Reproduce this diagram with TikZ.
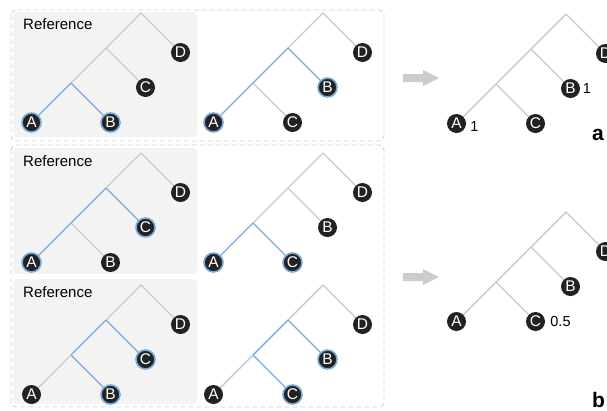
\documentclass[tikz,border=0pt]{standalone}
\usepackage{fontspec}
\setmainfont{Liberation Sans}
\setsansfont{Liberation Sans}
\usetikzlibrary{calc}
\definecolor{edgegray}{HTML}{C9C9C9}
\definecolor{edgeblue}{HTML}{78AADA}
\definecolor{boxfill}{HTML}{F3F3F3}
\definecolor{dashgray}{HTML}{D3D3D3}
\definecolor{nodeblack}{HTML}{222222}
\definecolor{arrowgray}{HTML}{CCCCCC}
\tikzset{
  leaf/.style={circle, fill=nodeblack, text=white, inner sep=0pt, minimum size=19pt,
    font=\fontsize{15.5}{16}\selectfont},
  ng/.style={leaf},
  nb/.style={leaf, draw=edgeblue, line width=1.6pt},
  eg/.style={draw=edgegray, line width=1.4pt},
  eb/.style={draw=edgeblue, line width=1.4pt},
  refbox/.style={fill=boxfill, rounded corners=4pt},
  outerbox/.style={draw=dashgray, line width=0.9pt, dash pattern=on 5pt off 3pt, rounded corners=5pt},
  reflabel/.style={anchor=base west, inner sep=0pt, font=\fontsize{15}{16}\selectfont},
  numlabel/.style={anchor=west, inner sep=0pt, font=\fontsize{14.5}{15}\selectfont},
  panellabel/.style={anchor=base west, inner sep=0pt, font=\fontsize{21}{22}\selectfont\bfseries},
}
\newcommand\treecoords[2]{%
  \coordinate (#1r) at (#2);
  \coordinate (#1m) at ($(#1r)+(-35,35)$);
  \coordinate (#1n) at ($(#1r)+(-70,70)$);
  \coordinate (#1p1) at ($(#1n)+(-39.5,39.5)$);
  \coordinate (#1p2) at ($(#1n)+(39.5,39.5)$);
  \coordinate (#1p3) at ($(#1m)+(39.5,39.5)$);
  \coordinate (#1p4) at ($(#1r)+(39.5,39.5)$);
}
% #1 prefix, #2 root, #3 label under n1-right, #4 label under m-right,
% #5 A-edge g/b, #6 n1-right g/b, #7 n1-m g/b, #8 m-right g/b
\newcommand\drawtree[8]{%
  \treecoords{#1}{#2}
  \node[n#5] (#1A) at (#1p1) {A};
  \node[n#6] (#1X) at (#1p2) {#3};
  \node[n#8] (#1Y) at (#1p3) {#4};
  \node[ng] (#1D) at (#1p4) {D};
  \draw[eg] (#1r) -- (#1D);
  \draw[eg] (#1r) -- (#1m);
  \draw[e#7] (#1m) -- (#1n);
  \draw[e#8] (#1m) -- (#1Y);
  \draw[e#6] (#1n) -- (#1X);
  \draw[e#5] (#1n) -- (#1A);
}
\begin{document}
\begin{tikzpicture}[x=1pt, y=-1pt]
\useasboundingbox (0,0) rectangle (607,410);
\clip (0,0) rectangle (607,410);
% outer dashed frames
\draw[outerbox] (11,10) rectangle (384,141);
\draw[outerbox] (11,145) rectangle (384,407);
% reference backgrounds
\fill[refbox] (13,12) rectangle (197,137);
\fill[refbox] (13,148) rectangle (197,274);
\fill[refbox] (13,279) rectangle (197,404);
\node[reflabel] (ref1) at (23,29) {Reference};
\node[reflabel] (ref2) at (23,166) {Reference};
\node[reflabel] (ref3) at (23,297) {Reference};
% trees
\drawtree{t1}{141,13}{B}{C}{b}{b}{g}{g}
\drawtree{t2}{323,13}{C}{B}{b}{g}{b}{b}
\drawtree{t3}{566,14}{C}{B}{g}{g}{g}{g}
\drawtree{t4}{141,153}{B}{C}{b}{g}{b}{b}
\drawtree{t5}{323,153}{C}{B}{b}{b}{g}{g}
\drawtree{t6}{566,212}{C}{B}{g}{g}{g}{g}
\drawtree{t7}{141,285}{B}{C}{g}{b}{b}{b}
\drawtree{t8}{323,285}{C}{B}{g}{b}{b}{b}
% value labels
\node[numlabel] (v1) at ($(t3A.east)+(4,3)$) {1};
\node[numlabel] (v2) at ($(t3Y.east)+(2.5,0)$) {1};
\node[numlabel] (v3) at ($(t6X.east)+(5,0.5)$) {0.5};
% arrows
\fill[arrowgray] (403,74) -- (423,74) -- (423,70) -- (439,78) -- (423,86) -- (423,82) -- (403,82) -- cycle;
\fill[arrowgray] (403,273) -- (423,273) -- (423,269) -- (439,277) -- (423,285) -- (423,281) -- (403,281) -- cycle;
% panel labels
\node[panellabel] (pa) at (592,140) {a};
\node[panellabel] (pb) at (592,407) {b};
\end{tikzpicture}
\end{document}
